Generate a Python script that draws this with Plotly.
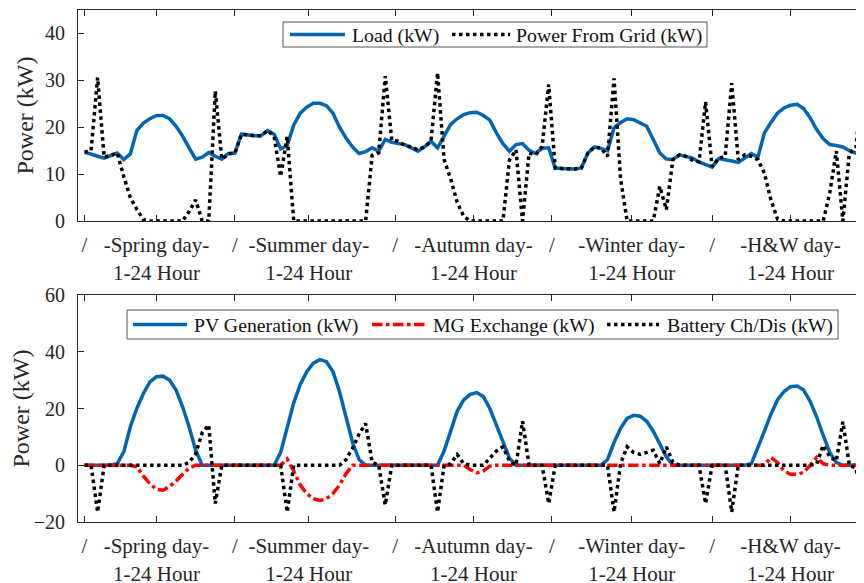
import plotly.graph_objects as go

hours = list(range(1, 121))

# Load (kW) for the five representative days (24 h each)
load_kw = [
    14.7, 14.2, 13.8, 13.4, 14.0, 14.5, 13.1, 14.3, 19.3, 20.9, 21.8, 22.5,
    22.5, 21.8, 20.2, 18.1, 15.6, 13.2, 13.6, 14.6, 13.8, 13.2, 14.4, 14.5,
    18.5, 18.3, 18.2, 18.2, 19.3, 18.5, 15.4, 16.1, 20.5, 23.0, 24.3, 25.1,
    25.1, 24.6, 23.0, 20.0, 17.7, 15.8, 14.4, 14.8, 15.6, 14.9, 17.4, 16.8,
    16.6, 16.3, 15.6, 14.9, 15.8, 17.0, 15.6, 18.0, 20.6, 21.8, 22.7, 23.1,
    23.2, 22.5, 21.5, 18.8, 16.5, 14.9, 16.3, 16.5, 15.1, 14.4, 15.5, 15.6,
    11.3, 11.2, 11.1, 11.1, 11.3, 14.5, 15.8, 15.5, 15.0, 19.9, 21.0, 21.8,
    21.6, 21.0, 20.2, 17.4, 14.5, 13.2, 13.1, 14.1, 13.8, 13.4, 12.6, 12.0,
    11.5, 13.3, 13.1, 12.8, 12.5, 13.5, 14.4, 13.6, 18.8, 21.0, 23.0, 24.1,
    24.7, 24.9, 24.0, 22.0, 19.5, 17.5, 16.3, 16.1, 15.8, 15.0, 14.5, 15.2,
]

# Power from grid (kW)
grid_kw = [
    14.7, 15.0, 30.6, 13.6, 14.0, 14.5, 9.5, 5.0, 2.5, 0.3, 0, 0,
    0, 0, 0, 0, 2.0, 4.5, 0, 0, 27.7, 13.2, 14.3, 14.5,
    18.5, 18.3, 18.2, 18.2, 19.3, 18.0, 9.5, 18.0, 0, 0, 0, 0,
    0, 0, 0, 0, 0, 0, 0, 0, 14.0, 14.5, 30.9, 17.2,
    17.0, 16.1, 15.8, 15.2, 15.8, 17.0, 31.6, 13.1, 9.0, 4.0, 1.0, 0,
    0, 0, 0, 0, 0, 13.0, 15.2, 0, 14.5, 14.1, 15.9, 29.1,
    11.3, 11.2, 11.1, 11.1, 11.3, 14.5, 15.8, 15.5, 13.8, 30.4, 9.0, 0,
    0, 0, 0, 0, 7.4, 2.4, 13.1, 14.1, 13.8, 13.0, 12.6, 25.4,
    11.6, 13.4, 13.8, 29.4, 13.1, 14.1, 13.8, 13.1, 10.2, 4.5, 0.4, 0,
    0, 0, 0, 0, 0, 0, 6.0, 14.9, 0, 14.5, 15.6, 30.0,
]

# PV generation (kW)
pv_kw = [
    0, 0, 0, 0, 0, 0.5, 4.7, 13.5, 20.0, 25.3, 29.4, 31.2,
    31.4, 30.0, 26.5, 20.6, 13.5, 5.3, 0, 0, 0, 0, 0, 0,
    0, 0, 0, 0, 0, 0, 4.5, 13.0, 22.0, 28.5, 33.0, 36.0,
    37.2, 36.5, 33.0, 26.0, 17.0, 8.0, 2.0, 0, 0, 0, 0, 0,
    0, 0, 0, 0, 0, 0, 0, 5.0, 12.5, 19.0, 23.0, 25.0,
    25.6, 24.2, 20.0, 14.0, 8.0, 2.5, 0, 0, 0, 0, 0, 0,
    0, 0, 0, 0, 0, 0, 0, 0, 2.0, 8.0, 13.0, 16.5,
    17.6, 17.3, 15.5, 12.0, 7.5, 3.0, 0, 0, 0, 0, 0, 0,
    0, 0, 0, 0, 0, 0, 0.5, 6.0, 12.0, 18.0, 23.0, 26.0,
    27.7, 27.9, 26.5, 22.5, 17.0, 10.5, 4.5, 1.0, 0, 0, 0, 0,
]

# MG exchange (kW)
mg_kw = [
    0, 0, 0, 0, 0, 0, 0, 0, -0.5, -3.8, -6.5, -8.5,
    -8.8, -7.5, -5.5, -3.2, -1.0, 0, 0, 0, 0, 0, 0, 0,
    0, 0, 0, 0, 0, 0, 0, 2.2, -2.0, -7.0, -10.0, -11.8,
    -12.4, -11.8, -10.0, -7.0, -3.0, 0, 0, 0, 0, 0, 0, 0,
    0, 0, 0, 0, 0, 0, 0, 0, 0, 0, 0, -1.5,
    -2.7, -2.0, -0.3, 0, 0, 0, 0, 0, 0, 0, 0, 0,
    0, 0, 0, 0, 0, 0, 0, 0, 0, 0, 0, 0,
    0, 0, 0, 0, 0, 0, 0, 0, 0, 0, 0, 0,
    0, 0, 0, 0, 0, 0, 0, 0, 0, 2.8, 1.0, -2.0,
    -3.2, -3.2, -2.5, 0, 2.8, 0.5, 0, 0, 0, 0, 0, 0,
]

# Battery charge / discharge (kW)
batt_kw = [
    0, 0, -16.5, 0, 0, 0, 0, 0, 0, 0, 0, 0,
    0, 0, 0, 0, 1.0, 4.0, 11.5, 14.2, -13.5, 0, 0, 0,
    0, 0, 0, 0, 0, 0, 0, -16.5, 0, 0, 0, 0,
    0, 0, 0, 0, 2.0, 6.0, 11.0, 14.7, 1.0, 0, -14.0, 0,
    0, 0, 0, 0, 0, 0, -16.5, 0, 0.5, 3.8, 0.5, 0,
    0, 0, 2.5, 5.0, 6.5, 1.5, 0, 15.5, 0, 0, 0, -13.5,
    0, 0, 0, 0, 0, 0, 0, 0, 0, -16.5, 0.5, 6.5,
    4.5, 3.8, 4.5, 5.3, 0.6, 6.5, 1.0, 0, 0, 0, 0, -13.5,
    0, 0, 0, -16.5, 0, 0, 0, 0, 0, 0, 0, 0,
    0, 0, 0, 0, 0.5, 7.0, 3.0, 1.5, 15.3, 0, -1.0, -13.5,
]

tick_pos = [1, 12, 24, 35.3, 48.5, 60.5, 72.5, 84.7, 97, 109]
tick_text = [
    "/", "-Spring day-<br>1-24 Hour",
    "/", "-Summer day-<br>1-24 Hour",
    "/", "-Autumn day-<br>1-24 Hour",
    "/", "-Winter day-<br>1-24 Hour",
    "/", "-H&W day-<br>1-24 Hour",
]

FONT = "Liberation Serif, Times New Roman, serif"
AX = "#262626"
BLUE = "#0066B3"
RED = "#FF0000"
LW = 3.5

# figure geometry (the page shows the figure shifted by the 8px body margin)
W, H = 864, 583
OFF = 8
ML, MR, MT, MB = 70, 3, 2, 69
PW, PH = W - ML - MR, H - MT - MB


def px(xp):
    """page x pixel -> paper coordinate"""
    return (xp - OFF - ML) / PW


def py(yp):
    """page y pixel -> paper coordinate"""
    return (H - MB - (yp - OFF)) / PH


series = [
    dict(y=load_kw, name="Load (kW)", color=BLUE, dash="solid", ax=("x", "y")),
    dict(y=grid_kw, name="Power From Grid (kW)", color="black", dash="dot", ax=("x", "y")),
    dict(y=pv_kw, name="PV Generation (kW)", color=BLUE, dash="solid", ax=("x2", "y2")),
    dict(y=mg_kw, name="MG Exchange (kW)", color=RED, dash="dashdot", ax=("x2", "y2")),
    dict(y=batt_kw, name="Battery Ch/Dis (kW)", color="black", dash="dot", ax=("x2", "y2")),
]

fig = go.Figure()
for s in series:
    fig.add_trace(go.Scatter(x=hours, y=s["y"], name=s["name"], mode="lines",
                             line=dict(color=s["color"], width=LW, dash=s["dash"]),
                             cliponaxis=False, xaxis=s["ax"][0], yaxis=s["ax"][1],
                             showlegend=False))

xcommon = dict(range=[0, 121], tickmode="array", tickvals=tick_pos, ticktext=tick_text,
               showline=True, linecolor=AX, linewidth=1, mirror="ticks",
               ticks="inside", ticklen=6, tickcolor=AX, showgrid=False, zeroline=False,
               automargin=False,
               tickfont=dict(family=FONT, size=21, color=AX), ticklabelstandoff=5)
ycommon = dict(showline=True, linecolor=AX, linewidth=1, mirror="ticks",
               ticks="inside", ticklen=6, tickcolor=AX, showgrid=False, zeroline=False,
               automargin=False,
               tickfont=dict(family=FONT, size=20, color=AX), ticklabelstandoff=8,
               title=dict(text="Power (kW)", font=dict(family=FONT, size=24, color=AX), standoff=4))

# hand-drawn legends (box, sample line, label) in page pixels
legends = [
    dict(box=(283, 707, 22, 47), items=[(0, 290, 345, 350), (1, 452, 510, 514)]),
    dict(box=(127, 838, 310, 339), items=[(2, 133, 187, 192), (3, 372, 427, 431), (4, 607, 659, 665)]),
]
shapes, annotations = [], []
for lg in legends:
    x0, x1, y0, y1 = lg["box"]
    shapes.append(dict(type="rect", xref="paper", yref="paper",
                       x0=px(x0), x1=px(x1), y0=py(y1), y1=py(y0),
                       line=dict(color="#555555", width=1), fillcolor="white", layer="above"))
    ym = (y0 + y1) / 2
    for idx, sx0, sx1, tx in lg["items"]:
        s = series[idx]
        shapes.append(dict(type="line", xref="paper", yref="paper",
                           x0=px(sx0), x1=px(sx1), y0=py(ym), y1=py(ym),
                           line=dict(color=s["color"], width=LW, dash=s["dash"]), layer="above"))
        annotations.append(dict(text=s["name"], xref="paper", yref="paper",
                                x=px(tx), y=py(ym + 0.5), xanchor="left", yanchor="middle",
                                showarrow=False,
                                font=dict(family=FONT, size=19.8, color="#111111")))

fig.update_layout(
    width=W, height=H,
    margin=dict(l=ML, r=MR, t=MT, b=MB),
    paper_bgcolor="white", plot_bgcolor="white",
    font=dict(family=FONT, color="#111111"),
    showlegend=False,
    xaxis=dict(domain=[0, 1], anchor="y", **xcommon),
    yaxis=dict(domain=[py(221), 1], anchor="x", range=[0, 45], tickvals=[0, 10, 20, 30, 40], **ycommon),
    xaxis2=dict(domain=[0, 1], anchor="y2", **xcommon),
    yaxis2=dict(domain=[0, py(295)], anchor="x2", range=[-20, 60], tickvals=[-20, 0, 20, 40, 60], **ycommon),
    shapes=shapes,
    annotations=annotations,
)

fig.write_html("out.html")
